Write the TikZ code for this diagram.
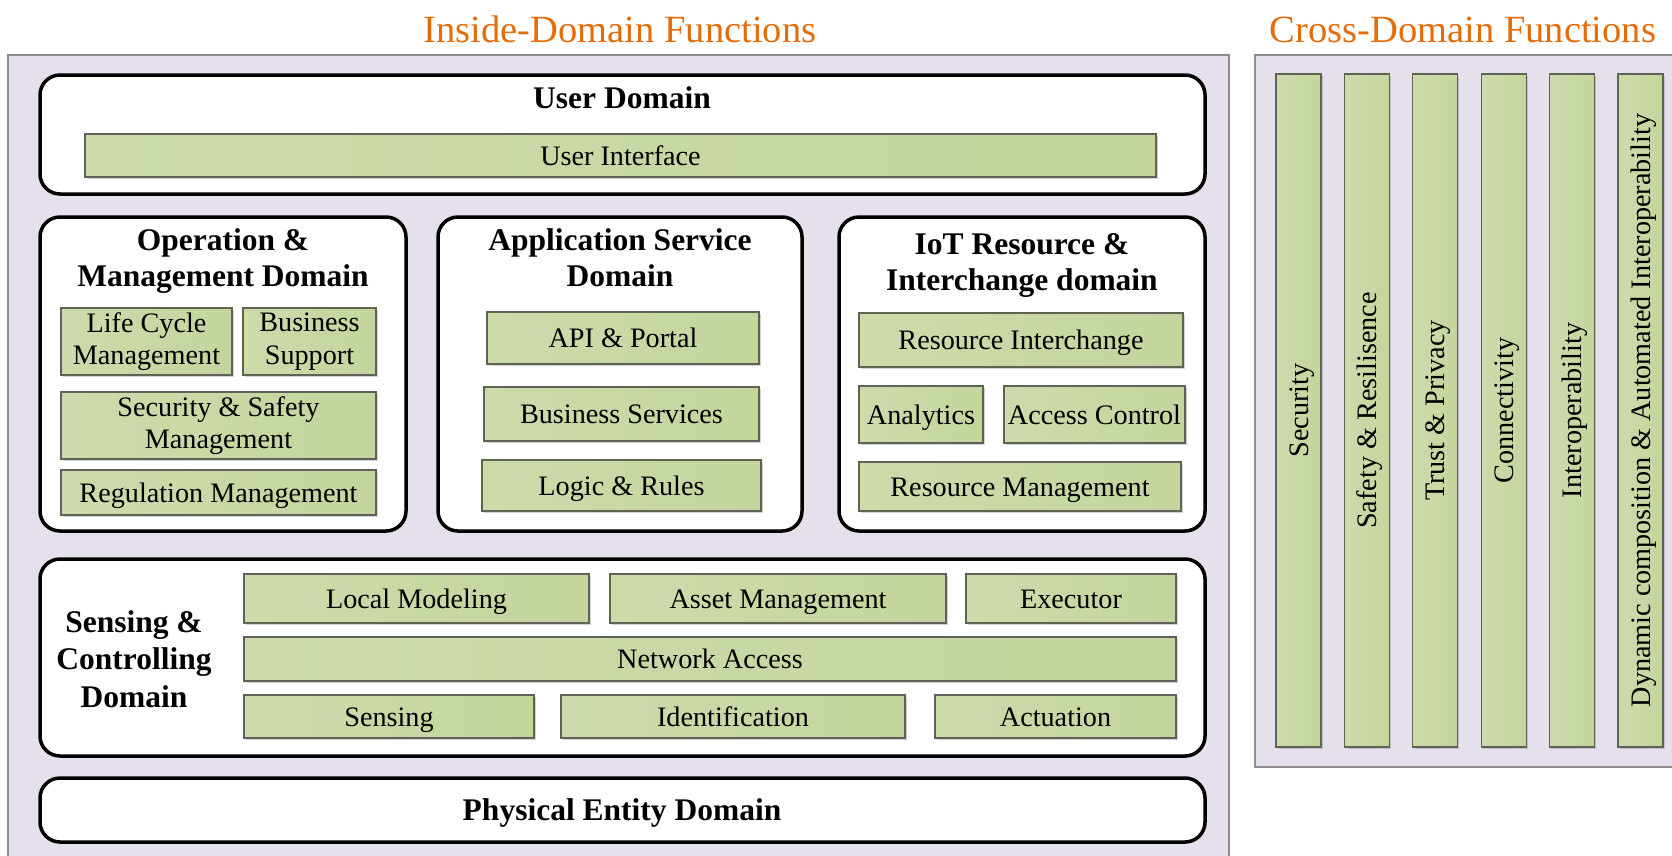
\documentclass[tikz,border=0pt]{standalone}
\usepackage{fontspec}
\setmainfont{Liberation Serif}
\usetikzlibrary{shadows}
\definecolor{lav}{HTML}{E6E0EC}
\definecolor{panelborder}{HTML}{8C8C8C}
\definecolor{gleft}{HTML}{CDDBAB}
\definecolor{gright}{HTML}{C4D59D}
\definecolor{gborder}{HTML}{5E6356}
\definecolor{orangetxt}{HTML}{E46C0A}
\tikzset{
  panel/.style={fill=lav, draw=panelborder, line width=1.5pt},
  dombox/.style={draw=black, fill=white, line width=3.5pt, rounded corners=20pt,
    inner sep=0pt, outer sep=0pt,
    drop shadow={shadow xshift=1.5pt, shadow yshift=-1.5pt, opacity=0.3}},
  gbox/.style={draw=gborder, line width=1.3pt, left color=gleft, right color=gright,
    inner sep=0pt, outer sep=0pt, align=center, font=\fontsize{28.2}{32.5}\selectfont,
    drop shadow={shadow xshift=1.5pt, shadow yshift=-1.5pt, opacity=0.35}},
  oneline/.style={text height=19pt, text depth=0pt},
  dtitle/.style={align=center, font=\fontsize{31.5}{36}\selectfont\bfseries, inner sep=0pt},
  otitle/.style={font=\fontsize{38.5}{40}\selectfont, text=orangetxt, inner sep=0pt, anchor=base},
}
\newcommand{\boxat}[7]{\node[#1, anchor=north west, minimum width={(#5-#3)*1pt}, minimum height={(#6-#4)*1pt}] (#2) at (#3,#4) {#7};}
\begin{document}
\begin{tikzpicture}[x=1pt, y=-1pt]
\useasboundingbox (0,0) rectangle (1672,855);
% panels
\draw[panel] (8,55) rectangle (1229,880);
\draw[panel] (1255,55) rectangle (1700,767);
% titles
\node[otitle] (tin) at (620,42) {Inside-Domain Functions};
\node[otitle] (tcr) at (1463,42) {Cross-Domain Functions};
% domains
\boxat{dombox}{ud}{40}{75}{1205}{194}{}
\boxat{dombox}{od}{40}{217}{406}{531}{}
\boxat{dombox}{ad}{438}{217}{802}{531}{}
\boxat{dombox}{idm}{839}{217}{1205}{531}{}
\boxat{dombox}{sd}{40}{559}{1205}{756}{}
\boxat{dombox}{pd}{40}{778}{1205}{842}{}
% domain titles
\node[dtitle] (udt) at (622,98) {User Domain};
\node[dtitle] (odt) at (223,261) {Operation \&\\Management Domain};
\node[dtitle] (adt) at (620,258) {Application Service\\Domain};
\node[dtitle] (idt) at (1022,265) {IoT Resource \&\\Interchange domain};
\node[dtitle, font=\fontsize{31.5}{37.5}\selectfont\bfseries] (sdt) at (134,659) {Sensing \&\\Controlling\\Domain};
\node[dtitle, text height=21.5pt, text depth=0pt] (pdt) at (622,810) {Physical Entity Domain};
% green boxes
\boxat{gbox,oneline}{ui}{85}{134}{1156}{177}{User Interface}
\boxat{gbox}{lcm}{61}{308}{232}{375}{Life Cycle\\Management}
\boxat{gbox}{bsp}{243}{308}{376}{375}{Business\\Support}
\boxat{gbox}{ssm}{61}{392}{376}{459}{Security \& Safety\\Management}
\boxat{gbox,oneline}{rgm}{61}{470}{376}{515}{Regulation Management}
\boxat{gbox,oneline}{api}{487}{312}{759}{364}{API \& Portal}
\boxat{gbox,oneline}{bsv}{484}{387}{759}{441}{Business Services}
\boxat{gbox,oneline}{lgr}{482}{460}{761}{511}{Logic \& Rules}
\boxat{gbox,oneline}{rin}{859}{313}{1183}{367}{Resource Interchange}
\boxat{gbox,oneline}{ana}{859}{386}{983}{443}{Analytics}
\boxat{gbox,oneline}{acc}{1004}{386}{1185}{443}{Access Control}
\boxat{gbox,oneline}{rsm}{859}{462}{1181}{511}{Resource Management}
\boxat{gbox,oneline}{lmo}{244}{574}{589}{623}{Local Modeling}
\boxat{gbox,oneline}{asm}{610}{574}{946}{623}{Asset Management}
\boxat{gbox,oneline}{exe}{966}{574}{1176}{623}{Executor}
\boxat{gbox,oneline}{nac}{244}{637}{1176}{681}{Network Access}
\boxat{gbox,oneline}{sns}{244}{695}{534}{738}{Sensing}
\boxat{gbox,oneline}{idf}{561}{695}{905}{738}{Identification}
\boxat{gbox,oneline}{act}{935}{695}{1176}{738}{Actuation}
% cross-domain bars
\foreach \n/\x/\t in {b1/1298.5/Security, b2/1366.9/Safety \& Resilisence, b3/1435.3/Trust \& Privacy, b4/1503.7/Connectivity, b5/1572.1/Interoperability, b6/1640.5/Dynamic composition \& Automated Interoperability}{
  \node[gbox, oneline, rotate=90, minimum width=673pt, minimum height=45pt] (\n) at (\x,410.5) {\t};
}
\end{tikzpicture}
\end{document}
